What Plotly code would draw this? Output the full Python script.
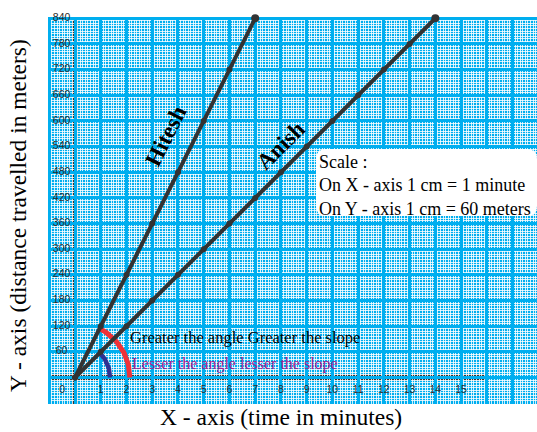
import numpy as np
import plotly.graph_objects as go

# ---- data ----
hitesh_min = [0, 1, 2, 3, 4, 5, 6, 7]
hitesh_dist = [0, 120, 240, 360, 480, 600, 720, 840]
anish_min = [0, 1, 2, 3, 4, 5, 6, 7, 8, 9, 10, 11, 12, 13, 14]
anish_dist = [0, 60, 120, 180, 240, 300, 360, 420, 480, 540, 600, 660, 720, 780, 840]
x_ticks = [0, 1, 2, 3, 4, 5, 6, 7, 8, 9, 10, 11, 12, 13, 14, 15]
y_ticks = [60, 120, 180, 240, 300, 360, 420, 480, 540, 600, 660, 720, 780, 840]

CYAN = "#00AEEF"
DARK = "#333333"
SERIF = "Liberation Serif, Times New Roman, serif"
SANS = "Liberation Sans, Arial, sans-serif"

W, H = 537, 432
ML, MR, MT, MB = 48, 0, 17, 28
PW, PH = W - ML - MR, H - MT - MB


def px(xp):
    return (xp - ML) / PW


def py(yp):
    return (H - MB - yp) / PH


XR = [-1.05, 17.95]
YR = [-62, 843]

fig = go.Figure()


def arc(slope_y_per_x, r_units, color, width):
    ang = np.arctan((slope_y_per_x / 60.0))
    t = np.linspace(0, ang, 40)
    return go.Scatter(x=r_units * np.cos(t), y=60 * r_units * np.sin(t), mode="lines",
                      line=dict(color=color, width=width), hoverinfo="skip", showlegend=False)


h_slope = hitesh_dist[-1] / hitesh_min[-1]
a_slope = anish_dist[-1] / anish_min[-1]
fig.add_trace(arc(h_slope, 2.13, "#EE3238", 5))
fig.add_trace(arc(a_slope, 1.36, "#2E3192", 4.5))

fig.add_trace(go.Scatter(x=hitesh_min, y=hitesh_dist, mode="lines+markers",
                         line=dict(color=DARK, width=4), marker=dict(color=DARK, size=6),
                         showlegend=False, name="Hitesh"))
fig.add_trace(go.Scatter(x=anish_min, y=anish_dist, mode="lines+markers",
                         line=dict(color=DARK, width=4), marker=dict(color=DARK, size=6),
                         showlegend=False, name="Anish"))
fig.add_trace(go.Scatter(x=[hitesh_min[-1], anish_min[-1]], y=[hitesh_dist[-1], anish_dist[-1]],
                         mode="markers", marker=dict(color=DARK, size=8), showlegend=False,
                         cliponaxis=False))

fig.add_trace(go.Scatter(x=[v if v > 0 else -0.5 for v in x_ticks], y=[-31] * len(x_ticks),
                         text=[str(v) for v in x_ticks], mode="text",
                         textfont=dict(family=SANS, size=10.5, color="#2b2b2b"), showlegend=False))
fig.add_trace(go.Scatter(x=[-0.52] * len(y_ticks), y=y_ticks,
                         text=[str(v) for v in y_ticks], mode="text", cliponaxis=False,
                         textfont=dict(family=SANS, size=10.5, color="#2b2b2b"), showlegend=False))

fig.add_shape(type="line", x0=0, x1=0, y0=YR[0], y1=YR[1], line=dict(color=DARK, width=6), layer="below")
fig.add_shape(type="line", x0=XR[0], x1=16.05, y0=0, y1=0, line=dict(color=DARK, width=6), layer="below")

fig.add_annotation(x=3.55, y=565, text="<b>Hitesh</b>", showarrow=False, textangle=-63.4,
                   font=dict(family=SERIF, size=23, color="black"))
fig.add_annotation(x=8.0, y=542, text="<b>Anish</b>", showarrow=False, textangle=-45,
                   font=dict(family=SERIF, size=23, color="black"))

fig.add_annotation(x=2.05, y=94, text="Greater the angle Greater the slope", showarrow=False,
                   xanchor="left", yanchor="middle", font=dict(family=SERIF, size=16.5, color="black"))
fig.add_annotation(x=2.12, y=31, text="Lesser the angle lesser the slope", showarrow=False,
                   xanchor="left", yanchor="middle", font=dict(family=SERIF, size=16, color="#A0208F"))

# rounded white box for the scale note
bx0, bx1, by0, by1, rr = px(316), px(537), py(216), py(149), 10
rx, ry = rr / PW, rr / PH
path = (f"M {bx0+rx},{by0} L {bx1-rx},{by0} Q {bx1},{by0} {bx1},{by0+ry} "
        f"L {bx1},{by1-ry} Q {bx1},{by1} {bx1-rx},{by1} L {bx0+rx},{by1} "
        f"Q {bx0},{by1} {bx0},{by1-ry} L {bx0},{by0+ry} Q {bx0},{by0} {bx0+rx},{by0} Z")
fig.add_shape(type="path", path=path, xref="paper", yref="paper", fillcolor="white",
              line=dict(width=0), layer="above")
fig.add_annotation(x=px(317), y=py(150), xref="paper", yref="paper", xanchor="left", yanchor="top",
                   text="Scale :<br>On X - axis 1 cm = 1 minute<br>On Y - axis 1 cm = 60 meters",
                   showarrow=False, align="left", borderpad=1,
                   font=dict(family=SERIF, size=18, color="black"))

fig.add_annotation(x=px(18), y=py(216), xref="paper", yref="paper", xanchor="center", yanchor="middle",
                   text="Y - axis (distance travelled in meters)", showarrow=False, textangle=-90,
                   font=dict(family=SERIF, size=23.5, color="black"))
fig.add_annotation(x=px(281), y=py(417), xref="paper", yref="paper", xanchor="center", yanchor="middle",
                   text="X - axis (time in minutes)", showarrow=False,
                   font=dict(family=SERIF, size=23.5, color="black"))

fig.update_layout(
    width=W, height=H,
    margin=dict(l=ML, r=MR, t=MT, b=MB, pad=0, autoexpand=False),
    paper_bgcolor="white", plot_bgcolor=CYAN,
    showlegend=False,
    xaxis=dict(range=XR, dtick=1, tick0=0, showgrid=True, gridcolor=CYAN, gridwidth=3,
               zeroline=False, showticklabels=False, ticks="", fixedrange=True, automargin=False,
               minor=dict(dtick=0.1, tick0=0, showgrid=True, gridcolor="rgba(255,255,255,0.8)", gridwidth=1)),
    yaxis=dict(range=YR, dtick=60, tick0=0, showgrid=True, gridcolor=CYAN, gridwidth=3,
               zeroline=False, showticklabels=False, ticks="", fixedrange=True, automargin=False,
               minor=dict(dtick=6, tick0=0, showgrid=True, gridcolor="rgba(255,255,255,0.8)", gridwidth=1)),
)

fig.write_html("out.html", config={"displayModeBar": False},
               post_script="document.body.style.margin='0';document.body.style.overflow='hidden';")
